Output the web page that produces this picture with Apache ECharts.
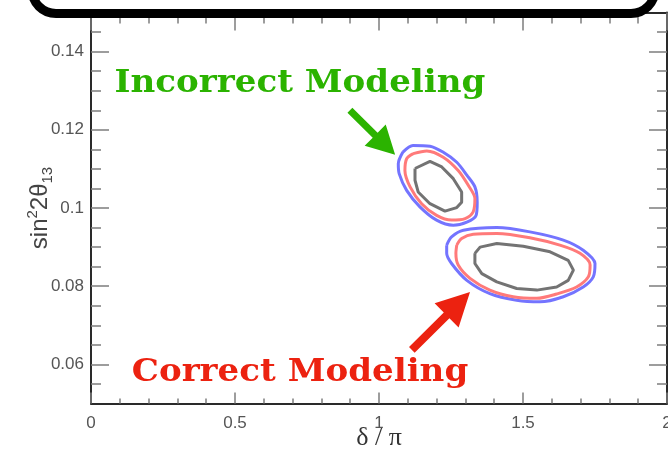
<!DOCTYPE html>
<html>
<head>
<meta charset="utf-8">
<script src="https://cdn.jsdelivr.net/npm/echarts@6/dist/echarts.min.js"></script>
<style>
  html, body { margin: 0; padding: 0; background: #fff; }
  #chart { width: 668px; height: 450px; }
</style>
</head>
<body>
<div id="chart"></div>
<script>
// Axis ticks
const xMajorTicks = [0, 0.5, 1, 1.5, 2];
const xTickLabels = ['0', '0.5', '1', '1.5', '2'];
const yMajorTicks = [0.06, 0.08, 0.1, 0.12, 0.14];
const yTickLabels = ['0.06', '0.08', '0.1', '0.12', '0.14'];
const yMinorTicks = [0.055, 0.065, 0.07, 0.075, 0.085, 0.09, 0.095, 0.105,
                     0.11, 0.115, 0.125, 0.13, 0.135, 0.145];

// Allowed regions, [delta/pi, sin^2 2theta13]
const incorrectBlue = [[1.083,0.1143],[1.118,0.1160],[1.177,0.1158],[1.222,0.1143],[1.270,0.1117],
  [1.305,0.1084],[1.333,0.1054],[1.341,0.1015],[1.337,0.0981],[1.305,0.0964],[1.258,0.0956],
  [1.200,0.0969],[1.142,0.1003],[1.096,0.1045],[1.070,0.1088],[1.067,0.1113],[1.083,0.1143]];
const incorrectRed = [[1.119,0.1139],[1.166,0.1146],[1.223,0.1130],[1.275,0.1096],[1.310,0.1058],
  [1.333,0.1024],[1.327,0.0990],[1.299,0.0973],[1.252,0.0969],[1.200,0.0981],[1.148,0.1011],
  [1.108,0.1054],[1.090,0.1096],[1.096,0.1126],[1.119,0.1139]];
const incorrectGray = [[1.125,0.1101],[1.177,0.1119],[1.218,0.1105],[1.258,0.1075],[1.287,0.1041],
  [1.287,0.1015],[1.270,0.1001],[1.229,0.0992],[1.177,0.1011],[1.136,0.1041],[1.125,0.1071],[1.125,0.1101]];

const correctBlue = [[1.235,0.0905],[1.252,0.0926],[1.293,0.0943],[1.409,0.0950],[1.524,0.0939],
  [1.640,0.0918],[1.709,0.0892],[1.750,0.0858],[1.744,0.0824],[1.709,0.0798],[1.640,0.0773],
  [1.559,0.0760],[1.478,0.0764],[1.385,0.0781],[1.305,0.0815],[1.252,0.0858],[1.235,0.0884],[1.235,0.0905]];
const correctRed = [[1.270,0.0905],[1.287,0.0922],[1.327,0.0933],[1.409,0.0935],[1.524,0.0924],
  [1.628,0.0905],[1.698,0.0884],[1.733,0.0854],[1.727,0.0824],[1.686,0.0798],[1.617,0.0780],
  [1.548,0.0769],[1.466,0.0773],[1.385,0.0790],[1.316,0.0820],[1.275,0.0854],[1.267,0.0884],[1.270,0.0905]];
const correctGray = [[1.333,0.0884],[1.351,0.0900],[1.409,0.0909],[1.501,0.0902],[1.594,0.0888],
  [1.657,0.0866],[1.675,0.0841],[1.657,0.0815],[1.617,0.0798],[1.548,0.0790],[1.478,0.0794],
  [1.409,0.0811],[1.357,0.0832],[1.333,0.0858],[1.333,0.0884]];

// Callout arrows (tail -> tip), in data units
const incorrectArrow = { tail: [0.899, 0.1250], tip: [1.056, 0.1136] };
const correctArrow = { tail: [1.114, 0.0637], tip: [1.316, 0.0785] };

const GREEN = '#2bb300';
const RED = '#ec2210';
const SANS = '"Liberation Sans", Arial, sans-serif';
const SLAB = '"DejaVu Serif", serif';
const TICK = '#7d7d7d';
const AXIS = '#2a2a2a';

function xAxisCfg(position, majorLen, minorLen, showLabels) {
  return {
    type: 'value', position, min: 0, max: 2, interval: 0.5,
    splitLine: { show: false },
    axisLine: { show: true, lineStyle: { color: AXIS, width: 2 } },
    axisTick: { show: true, inside: true, length: majorLen, lineStyle: { color: TICK, width: 1.5 } },
    minorTick: { show: true, splitNumber: 5, length: minorLen, lineStyle: { color: TICK, width: 1.5 } },
    axisLabel: {
      show: showLabels, margin: 11, color: '#555', fontFamily: SANS, fontSize: 17,
      formatter: v => { const i = xMajorTicks.findIndex(t => Math.abs(t - v) < 1e-9); return i < 0 ? '' : xTickLabels[i]; }
    }
  };
}

function yAxisCfg(position, ticks, len, showLine, showLabels) {
  return {
    type: 'value', position, min: 0.05, max: 0.15,
    splitLine: { show: false },
    axisLine: { show: showLine, lineStyle: { color: AXIS, width: 2 } },
    axisTick: { show: true, inside: true, length: len, customValues: ticks, lineStyle: { color: TICK, width: 1.5 } },
    axisLabel: {
      show: showLabels, customValues: ticks, margin: 7, color: '#555', fontFamily: SANS, fontSize: 17,
      formatter: v => { const i = yMajorTicks.findIndex(t => Math.abs(t - v) < 1e-9); return i < 0 ? '' : yTickLabels[i]; }
    }
  };
}

const chart = echarts.init(document.getElementById('chart'));

function contour(data, color, smooth, z) {
  return {
    type: 'line', data, xAxisIndex: 0, yAxisIndex: 0, showSymbol: false, silent: true,
    smooth, z, lineStyle: { color, width: 3 }
  };
}

const bottomX = xAxisCfg('bottom', 11, 5, true);
bottomX.name = 'δ / π';
bottomX.nameLocation = 'middle';
bottomX.nameGap = 22;
bottomX.nameMoveOverlap = false;
bottomX.nameTextStyle = { fontFamily: '"Liberation Serif", serif', fontSize: 26, color: '#333' };

const leftY = yAxisCfg('left', yMajorTicks, 18, true, true);
leftY.name = '{a|sin}{s|2}{a|2θ}{b|13}';
leftY.nameLocation = 'middle';
leftY.nameRotate = 90;
leftY.nameGap = 36;
leftY.nameMoveOverlap = false;
leftY.nameTextStyle = {
  rich: {
    a: { fontFamily: SANS, fontSize: 24, color: '#444', lineHeight: 30, verticalAlign: 'middle' },
    s: { fontFamily: SANS, fontSize: 15, color: '#444', lineHeight: 15, verticalAlign: 'top' },
    b: { fontFamily: SANS, fontSize: 15, color: '#444', lineHeight: 15, verticalAlign: 'bottom' }
  }
};

chart.setOption({
  animation: false,
  backgroundColor: '#fff',
  grid: { left: 91, right: 1, top: 12.5, bottom: 46.5, containLabel: false, outerBoundsMode: 'none' },
  xAxis: [bottomX, xAxisCfg('top', 18, 11, false)],
  yAxis: [
    leftY,
    yAxisCfg('left', yMinorTicks, 10, false, false),
    yAxisCfg('right', yMajorTicks, 18, true, false),
    yAxisCfg('right', yMinorTicks, 10, false, false)
  ],
  series: [
    contour(incorrectBlue, '#7474ff', 0.3, 2),
    contour(incorrectRed, '#ff7a7a', 0.3, 3),
    contour(incorrectGray, '#737373', 0, 4),
    contour(correctBlue, '#7474ff', 0.3, 2),
    contour(correctRed, '#ff7a7a', 0.3, 3),
    contour(correctGray, '#737373', 0, 4)
  ]
});

function px(p) { return chart.convertToPixel({ xAxisIndex: 0, yAxisIndex: 0 }, p); }

function arrowShape(arrow, shaft, headLen, headHalf) {
  const a = px(arrow.tail), b = px(arrow.tip);
  const dx = b[0] - a[0], dy = b[1] - a[1];
  const L = Math.hypot(dx, dy);
  const ux = dx / L, uy = dy / L, nx = -uy, ny = ux;
  const bx = b[0] - ux * headLen, by = b[1] - uy * headLen;
  const s = shaft / 2;
  return [
    [a[0] + nx * s, a[1] + ny * s],
    [bx + nx * s, by + ny * s],
    [bx + nx * headHalf, by + ny * headHalf],
    [b[0], b[1]],
    [bx - nx * headHalf, by - ny * headHalf],
    [bx - nx * s, by - ny * s],
    [a[0] - nx * s, a[1] - ny * s]
  ];
}

chart.setOption({
  graphic: [
    {
      type: 'rect', z: 100,
      shape: { x: 32, y: -50, width: 623, height: 63.5, r: 24 },
      style: { fill: '#fff', stroke: '#000', lineWidth: 9 }
    },
    {
      type: 'polygon', z: 50,
      shape: { points: arrowShape(incorrectArrow, 7, 28, 15) },
      style: { fill: GREEN }
    },
    {
      type: 'polygon', z: 50,
      shape: { points: arrowShape(correctArrow, 8, 33, 17) },
      style: { fill: RED }
    },
    {
      type: 'text', z: 50, x: 300, y: 84, scaleX: 1.1,
      style: { text: 'Incorrect Modeling', fill: GREEN, font: 'bold 31px ' + SLAB, align: 'center', verticalAlign: 'middle' }
    },
    {
      type: 'text', z: 50, x: 300, y: 373, scaleX: 1.1,
      style: { text: 'Correct Modeling', fill: RED, font: 'bold 31px ' + SLAB, align: 'center', verticalAlign: 'middle' }
    }
  ]
});
</script>
</body>
</html>
